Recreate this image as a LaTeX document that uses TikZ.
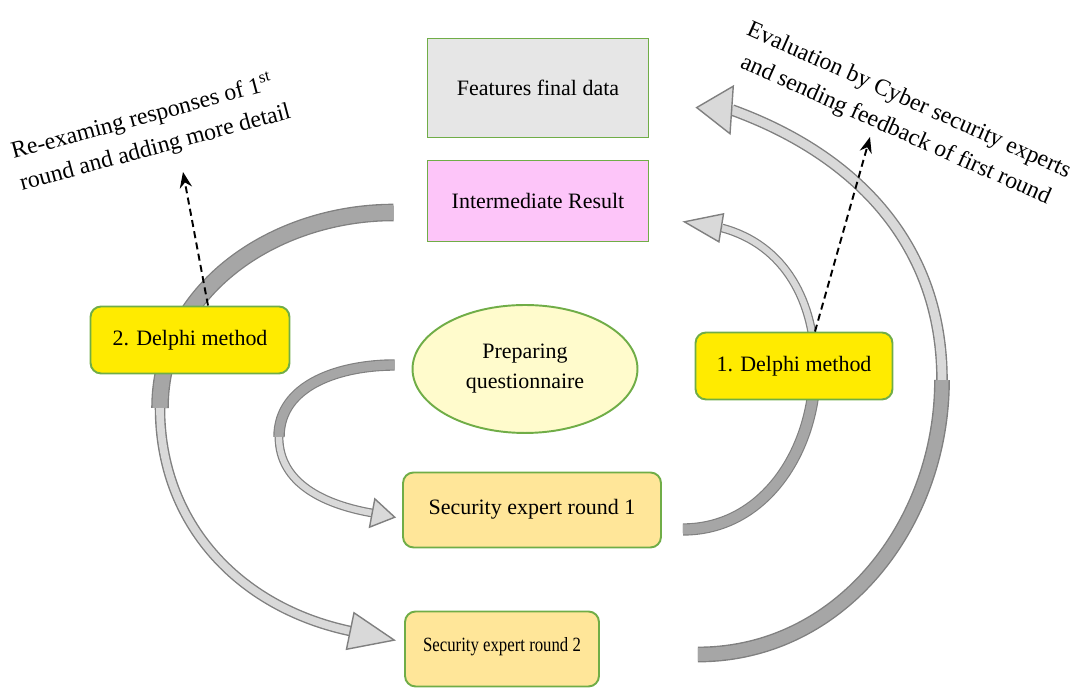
\documentclass[tikz,border=0pt]{standalone}
\usepackage{fontspec}
\setmainfont{Liberation Serif}
\usetikzlibrary{arrows.meta,shapes.geometric,backgrounds}
\definecolor{boxgreen}{HTML}{70AD47}
\definecolor{featgray}{HTML}{E6E6E6}
\definecolor{interpink}{HTML}{FDC5F9}
\definecolor{delphiyellow}{HTML}{FFEB00}
\definecolor{roundyellow}{HTML}{FFE699}
\definecolor{prepyellow}{HTML}{FFFBCC}
\definecolor{ribbonedge}{HTML}{808080}
\definecolor{ribbondark}{HTML}{A6A6A6}
\definecolor{ribbonlight}{HTML}{D9D9D9}

\begin{document}
\begin{tikzpicture}[x=0.02cm, y=0.02cm, >={Stealth[length=9pt,width=7pt]},
		box/.style={draw=boxgreen, line width=1.1pt, align=center, font=\fontsize{12.5}{17}\selectfont},
		rbox/.style={box, rounded corners=6pt},
		dark ribbon/.style 2 args={preaction={draw=ribbonedge, line width=#2}, draw=ribbondark, line width=#1},
		light ribbon/.style 2 args={preaction={draw=ribbonedge, line width=#2}, draw=ribbonlight, line width=#1},
		ribbon head/.style 2 args={draw=ribbonedge, line width=0.8pt, -{Triangle[width=#1, length=#2, fill=ribbonlight]}},
		note/.style={->, dash pattern=on 4pt off 2.5pt, line width=1.1pt},
		remark/.style={font=\fontsize{13.5}{18.5}\selectfont}]
		\useasboundingbox (0,0) rectangle (1076,688);
		
		% Boxes
		\node[box, fill=featgray, minimum width=4.42cm, minimum height=1.98cm] (feat) at (538,600) {Features final data};
		\node[box, fill=interpink, minimum width=4.42cm, minimum height=1.62cm] (inter) at (538,487) {Intermediate Result};
		\node[box, ellipse, fill=prepyellow, minimum width=4.5cm, minimum height=2.56cm] (prep) at (525,319) {Preparing\\questionnaire};
		
		\node[rbox, fill=delphiyellow, minimum width=3.98cm, minimum height=1.34cm] (delphi2) at (190,348) {2. Delphi method};
		\node[rbox, fill=delphiyellow, minimum width=3.94cm, minimum height=1.34cm] (delphi1) at (794,322) {1. Delphi method};
		
		\node[rbox, fill=roundyellow, minimum width=5.16cm, minimum height=1.5cm] (round1) at (532,178) {\raisebox{0.14cm}{Security expert round 1}};
		\node[rbox, fill=roundyellow, minimum width=3.88cm, minimum height=1.5cm, font=\fontsize{11.5}{14}\selectfont] (round2) at (502,39) {\raisebox{0.18cm}{\scalebox{0.83}[1]{Security expert round 2}}};
		
		% Remarks
		\node[remark, rotate=15, align=left] (revtext) at (151,556) {Re-examing responses of 1\textsuperscript{st}\\round and adding more detail};
		\node[remark, rotate=-24, align=center] (evaltext) at (902,572) {Evaluation by Cyber security experts\\and sending feedback of first round};
		
		\coordinate (revtip) at (183,516);
		\coordinate (evaltip) at (870,551);
		\draw[note] ([xshift=0.36cm]delphi2.north) -- (revtip);
		\draw[note] ([xshift=0.42cm]delphi1.north) -- (evaltip);
		
		% curved arrows, behind the boxes
		\begin{pgfonlayer}{background}
			% questionnaire -> round 1
			\coordinate (m1) at (279,251);
			\coordinate (h1) at (372,175);
			\draw[dark ribbon={5.2pt}{6.5pt}] ([xshift=-0.34cm, yshift=0.08cm]prep.west) to[out=180, in=90] (m1);
			\draw[light ribbon={3.6pt}{5pt}] (m1) to[out=-90, in=170] (h1);
			\draw[ribbon head={0.62cm}{0.5cm}] (h1) -- ([xshift=-0.12cm, yshift=-0.15cm]round1.west);
			
			% intermediate -> round 2
			\coordinate (m2) at (160,280);
			\coordinate (h2) at (350,57);
			\draw[dark ribbon={8.5pt}{10pt}] ([xshift=-0.66cm, yshift=-0.23cm]inter.west) to[out=180, in=90] (m2);
			\draw[light ribbon={4.4pt}{6pt}] (m2) to[out=-90, in=168] (h2);
			\draw[ribbon head={0.78cm}{0.95cm}] (h2) -- ([xshift=-0.16cm, yshift=0.17cm]round2.west);
			
			% round 1 -> intermediate
			\coordinate (m3) at (815,320);
			\coordinate (h3) at (722,460);
			\draw[dark ribbon={5.7pt}{7pt}] ([xshift=0.42cm, yshift=-0.39cm]round1.east) to[out=0, in=-90] (m3);
			\draw[light ribbon={3.6pt}{5pt}] (m3) to[out=90, in=-15] (h3);
			\draw[ribbon head={0.6cm}{0.8cm}] (h3) -- ([xshift=0.66cm, yshift=-0.41cm]inter.east);
			
			% round 2 -> final data
			\coordinate (m4) at (942,308);
			\coordinate (h4) at (732,578);
			\draw[dark ribbon={7.4pt}{9pt}] ([xshift=1.96cm, yshift=-0.11cm]round2.east) to[out=0, in=-90] (m4);
			\draw[light ribbon={5pt}{6.6pt}] (m4) to[out=90, in=-20] (h4);
			\draw[ribbon head={1cm}{0.74cm}] (h4) -- ([xshift=0.92cm, yshift=-0.39cm]feat.east);
		\end{pgfonlayer}
	\end{tikzpicture}
\end{document}
